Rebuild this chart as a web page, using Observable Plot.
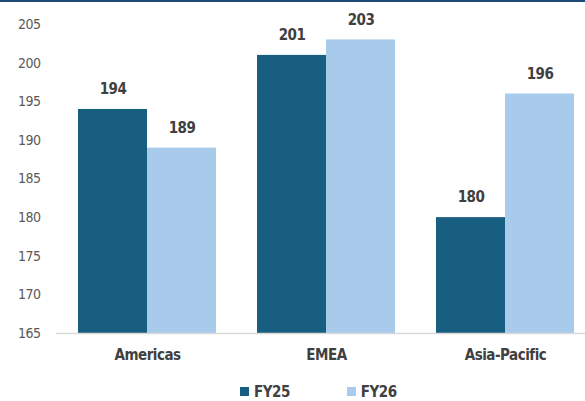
<!DOCTYPE html>
<html>
<head>
<meta charset="utf-8">
<script src="https://cdn.jsdelivr.net/npm/d3@7"></script>
<script src="https://cdn.jsdelivr.net/npm/@observablehq/plot@0.6"></script>
<style>
  body { margin: 0; background: #fff; }
  #wrap { width: 585px; border-top: 2px solid #1f4a78; font-family: "Liberation Sans Narrow", "DejaVu Sans Condensed", "Arial Narrow", sans-serif; }
  #legend { height: 29px; padding-left: 240px; box-sizing: border-box; display: flex; align-items: center; padding-top: 10px; font-weight: bold; font-size: 15px; letter-spacing: -0.5px; color: #404040; }
  .item { display: flex; align-items: center; margin-right: 57px; }
  .sw { width: 9px; height: 9px; margin-right: 5px; }
</style>
</head>
<body>
<div id="wrap"><div id="chart"></div><div id="legend"></div></div>
<script>
const regions = ["Americas", "EMEA", "Asia-Pacific"];
const series = ["FY25", "FY26"];
const fy25 = [194, 201, 180];
const fy26 = [189, 203, 196];
const yTicks = [165, 170, 175, 180, 185, 190, 195, 200, 205];
const colors = ["#185e80", "#a8cbec"];

const data = [];
regions.forEach((r, i) => {
  data.push({region: r, series: "FY25", value: fy25[i]});
  data.push({region: r, series: "FY26", value: fy26[i]});
});
const yMin = yTicks[0];
const half = 138 / 2;

const font = '"Liberation Sans Narrow", "DejaVu Sans Condensed", "Arial Narrow", sans-serif';

const chart = Plot.plot({
  width: 585,
  height: 370,
  marginTop: 22,
  marginBottom: 39,
  marginLeft: 56,
  marginRight: 0,
  style: {fontFamily: font, background: "#fff", letterSpacing: "-0.5px"},
  x: {type: "band", domain: regions, range: [56, 595], paddingInner: 0.23, paddingOuter: 0.117},
  y: {domain: [yTicks[0], yTicks[yTicks.length - 1]]},
  color: {domain: series, range: colors},
  marks: [
    Plot.barY(data.filter(d => d.series === "FY25"), {x: "region", y1: () => yMin, y2: "value", fill: d => d.series, insetRight: half}),
    Plot.barY(data.filter(d => d.series === "FY26"), {x: "region", y1: () => yMin, y2: "value", fill: d => d.series, insetLeft: half}),
    Plot.ruleY([yMin], {stroke: "#d9d9d9", strokeWidth: 1.5}),
    Plot.text(data.filter(d => d.series === "FY25"), {x: "region", y: "value", text: d => String(d.value), dx: -half / 2, dy: -20, fontSize: 15, fontWeight: "bold", fill: "#404040"}),
    Plot.text(data.filter(d => d.series === "FY26"), {x: "region", y: "value", text: d => String(d.value), dx: half / 2, dy: -20, fontSize: 15, fontWeight: "bold", fill: "#404040"}),
    Plot.axisY({ticks: yTicks, tickSize: 0, tickPadding: 16, fontSize: 14, fill: "#595959", label: null}),
    Plot.axisX({tickSize: 0, tickPadding: 16, fontSize: 15, fontWeight: "bold", fill: "#404040", label: null})
  ]
});
document.getElementById("chart").appendChild(chart);

const legend = document.getElementById("legend");
series.forEach((s, i) => {
  const item = document.createElement("div");
  item.className = "item";
  const sw = document.createElement("span");
  sw.className = "sw";
  sw.style.background = colors[i];
  const t = document.createElement("span");
  t.textContent = s;
  item.appendChild(sw);
  item.appendChild(t);
  legend.appendChild(item);
});
</script>
</body>
</html>
